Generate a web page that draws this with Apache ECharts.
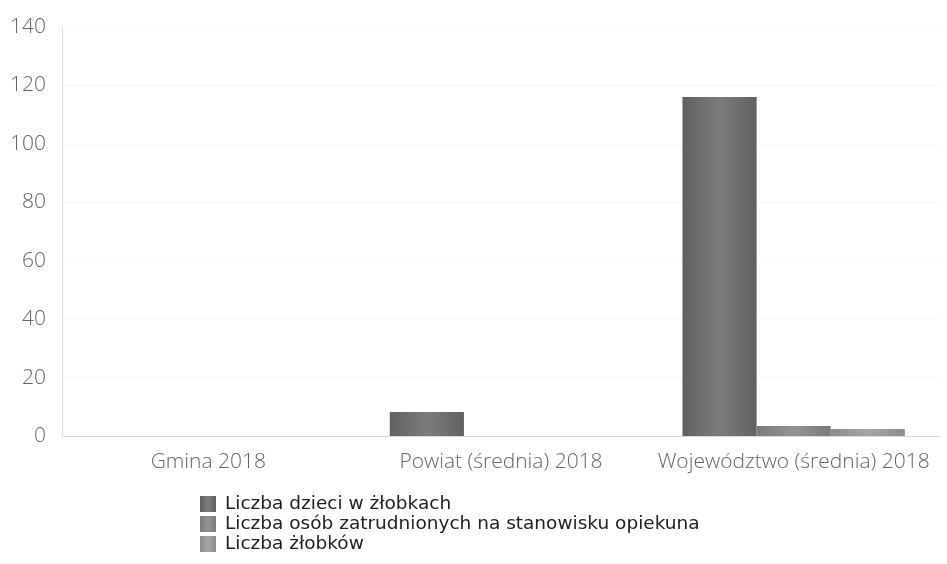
<!DOCTYPE html>
<html>
<head>
<meta charset="utf-8">
<script src="https://cdn.jsdelivr.net/npm/echarts@6/dist/echarts.min.js"></script>
<style>
  html, body { margin: 0; padding: 0; background: #fff; }
  #chart { width: 947px; height: 564px; }
</style>
</head>
<body>
<div id="chart"></div>
<script>
  var categories = ['Gmina 2018', 'Powiat (średnia) 2018', 'Województwo (średnia) 2018']
  var seriesNames = ['Liczba dzieci w żłobkach', 'Liczba osób zatrudnionych na stanowisku opiekuna', 'Liczba żłobków']
  var dzieci = [0, 8.2, 116]
  var opiekunowie = [0, 0, 3.4]
  var zlobki = [0, 0, 2.4]

  function shade(c1, c2) {
    return new echarts.graphic.LinearGradient(0, 0, 1, 0, [
      { offset: 0, color: c1 },
      { offset: 0.5, color: c2 },
      { offset: 1, color: c1 }
    ])
  }

  var chart = echarts.init(document.getElementById('chart'))
  chart.setOption({
    animation: false,
    textStyle: { fontFamily: 'Open Sans' },
    color: ['#6a6a6a', '#858585', '#989898'],
    grid: { left: 62, right: 7, top: 27, bottom: 128 },
    legend: {
      orient: 'vertical',
      left: 195,
      top: 489,
      itemWidth: 16,
      itemHeight: 16,
      itemGap: 0,
      icon: 'rect',
      textStyle: { fontSize: 18.5, lineHeight: 20, color: '#222', fontFamily: 'DejaVu Sans', padding: [0, 0, 0, 4] },
      data: seriesNames
    },
    xAxis: {
      type: 'category',
      data: categories,
      axisLine: { lineStyle: { color: '#dcdcdc' } },
      axisTick: { show: false },
      axisLabel: { interval: 0, fontSize: 21, fontWeight: 300, color: '#666', margin: 16 }
    },
    yAxis: {
      type: 'value',
      min: 0,
      max: 140,
      interval: 20,
      axisLine: { show: true, lineStyle: { color: '#dcdcdc' } },
      axisLabel: { fontSize: 21, fontWeight: 300, color: '#666', margin: 16 },
      splitLine: { lineStyle: { color: '#f2f2f2', type: 'dotted' } }
    },
    series: [
      {
        name: seriesNames[0], type: 'bar', data: dzieci,
        barGap: '0%', barCategoryGap: '24%',
        itemStyle: { color: shade('#606060', '#7c7c7c') }
      },
      {
        name: seriesNames[1], type: 'bar', data: opiekunowie,
        itemStyle: { color: shade('#7a7a7a', '#939393') }
      },
      {
        name: seriesNames[2], type: 'bar', data: zlobki,
        itemStyle: { color: shade('#8c8c8c', '#a6a6a6') }
      }
    ]
  })
</script>
</body>
</html>
